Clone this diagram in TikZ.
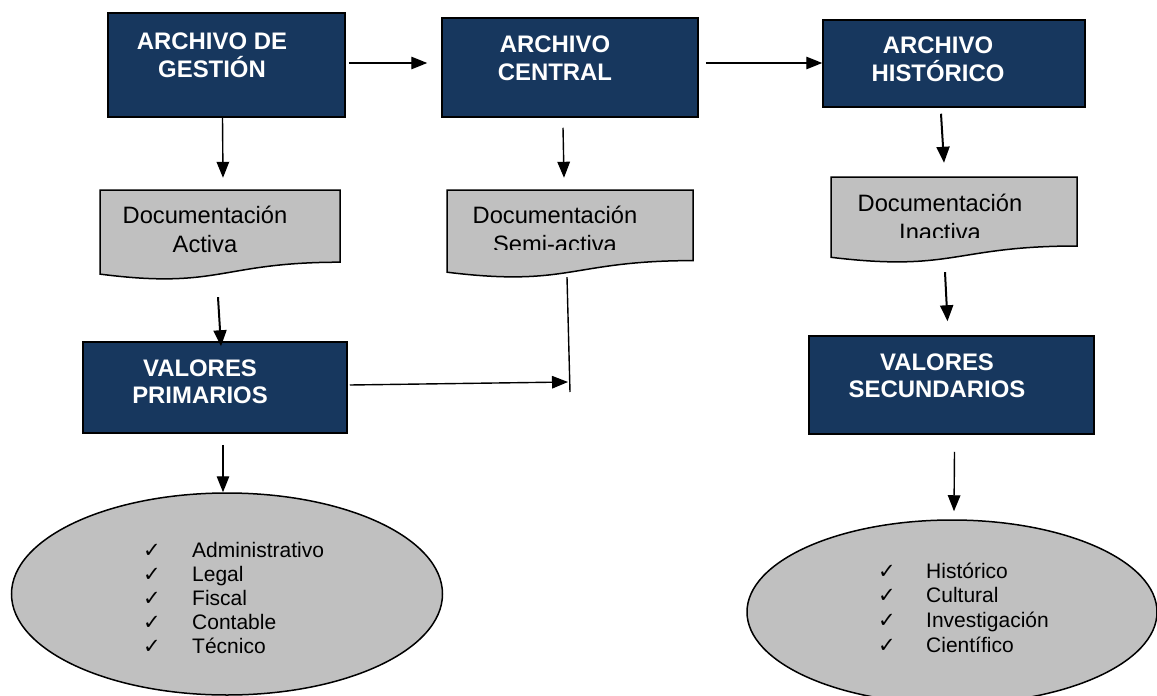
\documentclass[tikz,border=0pt]{standalone}
\usepackage{fontspec}
\setmainfont{Liberation Sans}
\newfontfamily\symfont{DejaVu Sans}
\usetikzlibrary{arrows.meta,shapes.geometric}
\definecolor{boxblue}{HTML}{17375E}
\definecolor{docgray}{HTML}{C0C0C0}
\tikzset{
  bluebox/.style={draw=black, line width=1.5pt, fill=boxblue, inner sep=0pt},
  titletxt/.style={text=white, inner sep=0pt, anchor=base,
    font=\fontsize{23.9}{28}\selectfont\bfseries},
  doctxt/.style={text=black, inner sep=0pt, anchor=base,
    font=\fontsize{23.7}{28}\selectfont},
  docshape/.style={draw=black, line width=1.5pt, fill=docgray},
  docframe/.style={inner sep=0pt},
  listtxt/.style={inner sep=0pt, anchor=base west, font=\fontsize{21}{24}\selectfont},
  chk/.style={inner sep=0pt, anchor=base west, font=\symfont\fontsize{21}{24}\selectfont},
  oval/.style={ellipse, draw=black, line width=1.5pt, fill=docgray, inner sep=0pt},
  arr/.style={-{Triangle[length=16pt,width=12.5pt]}, line width=1.4pt},
  thickarr/.style={-{Triangle[length=16pt,width=13pt]}, line width=2pt},
  plainline/.style={line width=1.4pt}
}
\begin{document}
\begin{tikzpicture}[x=1pt,y=-1pt]
\clip (0,0) rectangle (1157,696);
\fill[white] (0,0) rectangle (1157,696);

% top row boxes
\node[bluebox, minimum width=237pt, minimum height=104pt] (b1) at (226.5,65) {};
\node[titletxt] (b1a) at (212,49) {ARCHIVO DE};
\node[titletxt] (b1b) at (212,77) {GESTIÓN};

\node[bluebox, minimum width=256pt, minimum height=99pt] (b2) at (570,67.5) {};
\node[titletxt] (b2a) at (555,52) {ARCHIVO};
\node[titletxt] (b2b) at (555,80) {CENTRAL};

\node[bluebox, minimum width=262pt, minimum height=87pt] (b3) at (954,63.5) {};
\node[titletxt] (b3a) at (938,53) {ARCHIVO};
\node[titletxt] (b3b) at (938,81) {HISTÓRICO};

% documents
\node[docframe, minimum width=240pt, minimum height=90pt] (d1) at (220,235) {};
\draw[docshape] (100,190) -- (340,190) -- (340,262.2)
  .. controls (220,262.2) and (220,289.6) .. (100,274.1) -- cycle;
\node[doctxt] (d1a) at (205,223) {Documentación};
\node[doctxt] (d1b) at (205,252) {Activa};

\node[docframe, minimum width=246pt, minimum height=88pt] (d2) at (570,234) {};
\draw[docshape] (447,190) -- (693,190) -- (693,260.6)
  .. controls (570,260.6) and (570,287.4) .. (447,272.2) -- cycle;
\begin{scope}
  \clip (447,190) rectangle (693,249);
  \node[doctxt] (d2a) at (555,223) {Documentación};
  \node[doctxt] (d2b) at (555,252) {Semi-activa};
\end{scope}

\node[docframe, minimum width=246pt, minimum height=86pt] (d3) at (954,220) {};
\draw[docshape] (831,177) -- (1077,177) -- (1077,246)
  .. controls (954,246) and (954,272.2) .. (831,257.3) -- cycle;
\begin{scope}
  \clip (831,177) rectangle (1077,237);
  \node[doctxt] (d3a) at (940,211) {Documentación};
  \node[doctxt] (d3b) at (940,240) {Inactiva};
\end{scope}

% values boxes
\node[bluebox, minimum width=264pt, minimum height=91pt] (vp) at (215,387.5) {};
\node[titletxt] (vpa) at (200,376) {VALORES};
\node[titletxt] (vpb) at (200,403) {PRIMARIOS};

\node[bluebox, minimum width=285pt, minimum height=98pt] (vs) at (951.5,385) {};
\node[titletxt] (vsa) at (937,370) {VALORES};
\node[titletxt] (vsb) at (937,397) {SECUNDARIOS};

% ellipses
\node[oval, minimum width=431pt, minimum height=202pt] (e1) at (227,594) {};
\foreach \t [count=\i] in {Administrativo,Legal,Fiscal,Contable,Técnico}{
  \node[chk] (c1\i) at (143,{557+24*(\i-1)}) {✓};
  \node[listtxt] (l1\i) at (192,{557+24*(\i-1)}) {\t};
}

\node[oval, minimum width=410pt, minimum height=184pt] (e2) at (952,612) {};
\foreach \t [count=\i] in {Histórico,Cultural,Investigación,Científico}{
  \node[chk] (c2\i) at (878,{578+24.7*(\i-1)}) {✓};
  \node[listtxt] (l2\i) at (926,{578+24.7*(\i-1)}) {\t};
}

% connectors
\coordinate (j) at (570,392);
\draw[arr] ([shift={(3,-2)}]b1.east) -- ([shift={(-14,-4.5)}]b2.west);
\draw[arr] ([shift={(7,-4.5)}]b2.east) -- ([shift={(0,-0.5)}]b3.west);
\draw[arr] ([shift={(-4,0)}]b1.south) -- ([shift={(3,-12)}]d1.north);
\draw[arr] ([shift={(-7,10)}]b2.south) -- ([shift={(-6,-12)}]d2.north);
\draw[thickarr] ([shift={(-13,6)}]b3.south) -- ([shift={(-10,-14)}]d3.north);
\draw[thickarr] ([shift={(-2,17)}]d1.south) -- ([shift={(6,5)}]vp.north);
\draw[thickarr] ([shift={(-9,9)}]d3.south) -- ([shift={(-4,-14)}]vs.north);
\draw[plainline] ([shift={(-3,-1)}]d2.south) -- (j);
\draw[arr] ([shift={(2,-2.5)}]vp.east) -- ([shift={(-2,-10)}]j);
\draw[arr] ([shift={(8,11)}]vp.south) -- ([shift={(-4,0)}]e1.north);
\draw[arr] ([shift={(3,17)}]vs.south) -- ([shift={(2,-8)}]e2.north);
\end{tikzpicture}
\end{document}
